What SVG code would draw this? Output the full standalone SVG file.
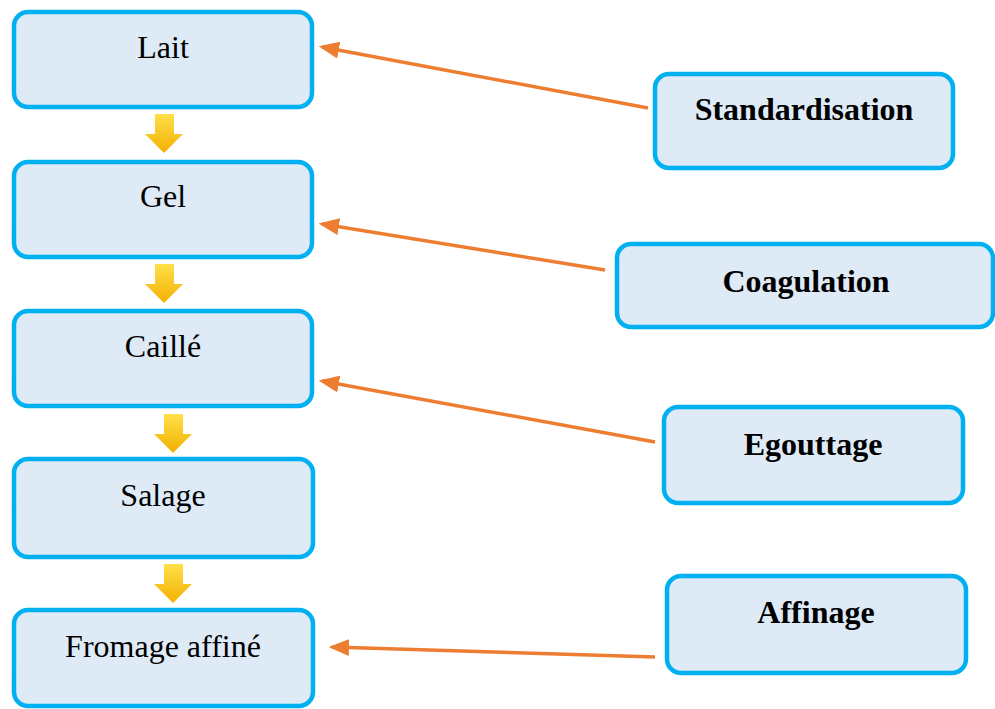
<svg xmlns="http://www.w3.org/2000/svg" width="995" height="709" viewBox="0 0 995 709">
<style>
.box{fill:#DEEAF6;stroke:#00B0F0;stroke-width:4.5}
.t{font-family:"Liberation Serif","Times New Roman",serif;font-size:32px;fill:#000;text-anchor:middle}
.b{font-weight:bold}
.con{stroke:#ED7D31;stroke-width:3.4;fill:none;marker-end:url(#ah)}
.ya{fill:url(#yg)}
</style>
<defs>
<marker id="ah" markerWidth="6" markerHeight="5" refX="5" refY="2.5" orient="auto" markerUnits="strokeWidth">
<path d="M0,0 L6,2.5 L0,5 Z" fill="#ED7D31"/>
</marker>
<linearGradient id="yg" x1="0" y1="0" x2="0" y2="1">
<stop offset="0" stop-color="#FFE04A"/>
<stop offset="1" stop-color="#F2B000"/>
</linearGradient>
</defs>
<rect width="995" height="709" fill="#fff"/>
<g id="lait"><rect class="box" x="14" y="12" width="298" height="95" rx="14"/><text class="t" x="163" y="58">Lait</text></g>
<g id="gel"><rect class="box" x="14" y="162" width="298" height="95" rx="14"/><text class="t" x="163" y="207">Gel</text></g>
<g id="caille"><rect class="box" x="14" y="311" width="298" height="95" rx="14"/><text class="t" x="163" y="357">Caillé</text></g>
<g id="salage"><rect class="box" x="14" y="459" width="299" height="98" rx="14"/><text class="t" x="163" y="506">Salage</text></g>
<g id="fromage"><rect class="box" x="14" y="610" width="299" height="96" rx="14"/><text class="t" x="163" y="657">Fromage affiné</text></g>
<g id="standardisation"><rect class="box" x="655" y="74" width="298" height="94" rx="14"/><text class="t b" x="804" y="120">Standardisation</text></g>
<g id="coagulation"><rect class="box" x="617" y="244" width="376" height="83" rx="14"/><text class="t b" x="806" y="292">Coagulation</text></g>
<g id="egouttage"><rect class="box" x="664" y="407" width="299" height="96" rx="14"/><text class="t b" x="813" y="455">Egouttage</text></g>
<g id="affinage"><rect class="box" x="667" y="576" width="299" height="97" rx="14"/><text class="t b" x="816" y="623">Affinage</text></g>
<g id="connectors">
<path class="ya" d="M155,114 H174 V134 H183 L164,153 L145,134 H155 Z"/>
<path class="ya" d="M155,264 H174 V284 H183 L164,303 L145,284 H155 Z"/>
<path class="ya" d="M164,414 H183 V434 H192 L173,453 L154,434 H164 Z"/>
<path class="ya" d="M164,564 H183 V584 H192 L173,603 L154,584 H164 Z"/>
<line class="con" x1="648" y1="108" x2="322" y2="47"/>
<line class="con" x1="605" y1="270" x2="322" y2="224"/>
<line class="con" x1="655" y1="442" x2="322" y2="381"/>
<line class="con" x1="655" y1="657" x2="332" y2="647"/>
</g>
</svg>
